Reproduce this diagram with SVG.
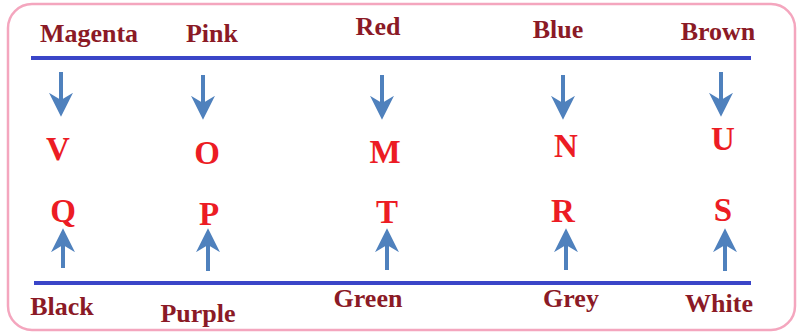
<svg xmlns="http://www.w3.org/2000/svg" width="799" height="334" viewBox="0 0 799 334">
<style>
.lbl{font-family:"Liberation Serif","DejaVu Serif",serif;font-weight:bold;font-size:26px;fill:#8B1A26;text-anchor:middle}
.let{font-family:"Liberation Serif","DejaVu Serif",serif;font-weight:bold;font-size:33px;fill:#EC1C24;text-anchor:middle}
.ln{stroke:#3A45C8;stroke-width:4}
.arr{stroke:#4F81BD;stroke-width:4;fill:none}
</style>
<defs>
<marker id="ah" viewBox="0 0 10 10" refX="8" refY="5" markerWidth="6" markerHeight="6" orient="auto" markerUnits="strokeWidth">
<path d="M0,0 L10,5 L0,10 L3,5 Z" fill="#4F81BD"/>
</marker>
</defs>
<rect x="8" y="4" width="787" height="326" rx="24" fill="#fff" stroke="#F4A6BE" stroke-width="2.5"/>
<g id="lines">
<line class="ln" x1="31" y1="58" x2="751" y2="58"/>
<line class="ln" x1="34" y1="283" x2="751" y2="283"/>
</g>
<g id="top-labels">
<text class="lbl" x="89" y="42">Magenta</text>
<text class="lbl" x="212" y="42">Pink</text>
<text class="lbl" x="378" y="35">Red</text>
<text class="lbl" x="558" y="38">Blue</text>
<text class="lbl" x="718" y="40">Brown</text>
</g>
<g id="connectors">
<line class="arr" x1="61" y1="72" x2="61" y2="112" marker-end="url(#ah)"/>
<line class="arr" x1="203" y1="75" x2="203" y2="115" marker-end="url(#ah)"/>
<line class="arr" x1="382" y1="75" x2="382" y2="115" marker-end="url(#ah)"/>
<line class="arr" x1="563" y1="75" x2="563" y2="115" marker-end="url(#ah)"/>
<line class="arr" x1="721" y1="72" x2="721" y2="112" marker-end="url(#ah)"/>
<line class="arr" x1="63" y1="268" x2="63" y2="233" marker-end="url(#ah)"/>
<line class="arr" x1="208" y1="271" x2="208" y2="233" marker-end="url(#ah)"/>
<line class="arr" x1="387" y1="270" x2="387" y2="233" marker-end="url(#ah)"/>
<line class="arr" x1="566" y1="270" x2="566" y2="233" marker-end="url(#ah)"/>
<line class="arr" x1="725" y1="271" x2="725" y2="233" marker-end="url(#ah)"/>
</g>
<g id="mid-letters">
<text class="let" x="58" y="160">V</text>
<text class="let" x="207" y="164">O</text>
<text class="let" x="385" y="163">M</text>
<text class="let" x="566" y="157">N</text>
<text class="let" x="723" y="150">U</text>
</g>
<g id="low-letters">
<text class="let" x="63" y="222">Q</text>
<text class="let" x="209" y="225">P</text>
<text class="let" x="387" y="223">T</text>
<text class="let" x="563" y="222">R</text>
<text class="let" x="723" y="221">S</text>
</g>
<g id="bottom-labels">
<text class="lbl" x="62" y="315">Black</text>
<text class="lbl" x="198" y="322">Purple</text>
<text class="lbl" x="368" y="307">Green</text>
<text class="lbl" x="571" y="307">Grey</text>
<text class="lbl" x="719" y="312">White</text>
</g>
</svg>
